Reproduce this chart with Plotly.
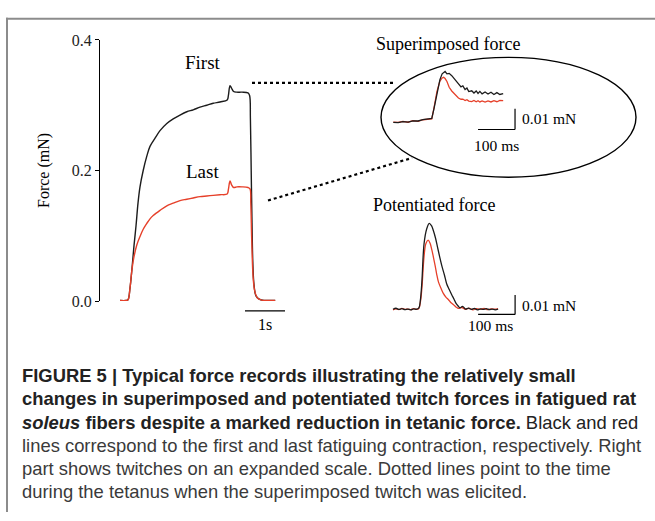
import plotly.graph_objects as go

W, H = 655, 521

# ---------------- data ----------------
# Tetanic force records (time in s, force in mN)
tet_first_t = [0, 0.15, 0.2, 0.25, 0.3, 0.35, 0.4, 0.45, 0.5, 0.58, 0.67, 0.75, 0.88, 1.0, 1.17, 1.33, 1.5,
               1.67, 1.83, 2.0, 2.17, 2.33, 2.5, 2.68, 2.71, 2.75, 2.79, 2.84, 2.92, 3.05, 3.2, 3.24, 3.26,
               3.28, 3.3, 3.32, 3.35, 3.4, 3.48, 3.6, 3.75, 3.88]
tet_first_f = [0.001, 0.001, 0.002, 0.02, 0.05, 0.085, 0.115, 0.15, 0.175, 0.2, 0.222, 0.237, 0.25, 0.261,
               0.272, 0.279, 0.285, 0.29, 0.293, 0.297, 0.3, 0.303, 0.305, 0.308, 0.315, 0.33, 0.326, 0.321,
               0.32, 0.32, 0.319, 0.315, 0.28, 0.2, 0.12, 0.06, 0.025, 0.008, 0.003, 0.001, 0.001, 0.001]

tet_last_t = [0, 0.15, 0.2, 0.25, 0.3, 0.35, 0.42, 0.5, 0.58, 0.67, 0.75, 0.83, 1.0, 1.17, 1.33, 1.5, 1.67,
              1.83, 2.0, 2.17, 2.33, 2.5, 2.68, 2.71, 2.75, 2.79, 2.84, 2.92, 3.05, 3.2, 3.25, 3.27, 3.29,
              3.31, 3.33, 3.36, 3.4, 3.45, 3.52, 3.6, 3.75, 3.88]
tet_last_f = [0.001, 0.001, 0.002, 0.02, 0.049, 0.068, 0.086, 0.099, 0.11, 0.119, 0.126, 0.131, 0.139, 0.146,
              0.15, 0.154, 0.156, 0.158, 0.16, 0.161, 0.162, 0.163, 0.164, 0.171, 0.184, 0.178, 0.174,
              0.175, 0.175, 0.174, 0.172, 0.15, 0.1, 0.06, 0.035, 0.018, 0.009, 0.004, 0.002, 0.001,
              0.001, 0.001]

# Superimposed twitch (time in ms, force in mN relative to pre-twitch level)
sup_t = [0, 13, 26, 40, 53, 67, 80, 94, 104, 110, 118, 126, 132, 136, 140, 145, 151, 158, 167, 176, 183,
         188, 194, 199, 204, 212, 218, 224, 229, 234, 240, 248, 256, 264, 272, 280, 288, 297]
sup_first_f = [0.0, -0.0001, 0.0004, 0.0002, 0.0008, 0.0007, 0.0014, 0.0016, 0.0019, 0.0067, 0.0142,
               0.0207, 0.0235, 0.0242, 0.0246, 0.0235, 0.0237, 0.0226, 0.0207, 0.0187, 0.0172, 0.0177,
               0.0159, 0.0166, 0.0149, 0.0153, 0.0142, 0.0152, 0.014, 0.015, 0.0138, 0.0147, 0.0137,
               0.0146, 0.0135, 0.0144, 0.0135, 0.0139]
sup_last_f = [0.0002, 0.0, 0.0005, 0.0001, 0.0009, 0.0005, 0.0013, 0.0015, 0.0017, 0.007, 0.015, 0.02,
              0.0215, 0.0218, 0.0212, 0.0198, 0.017, 0.0152, 0.0133, 0.0118, 0.0112, 0.0113, 0.0106,
              0.011, 0.0103, 0.0101, 0.0106, 0.01, 0.0105, 0.0099, 0.0104, 0.0098, 0.0104, 0.0099,
              0.0105, 0.01, 0.0106, 0.0105]

# Potentiated twitch (time in ms, force in mN)
pot_first_t = [0, 8, 16, 24, 32, 40, 48, 56, 64, 70, 74, 78, 84, 91, 98, 104, 109, 115, 120, 126, 132, 139,
               145, 152, 159, 165, 170, 176, 181, 188, 196, 204, 212, 220, 228, 236, 244, 252, 260, 268,
               276, 284]
pot_first_f = [0.0003, 0.0008, 0.0002, 0.0006, 0.0001, 0.0004, 0.0, 0.0005, 0.0003, 0.001, 0.005, 0.0143,
               0.0343, 0.0418, 0.0447, 0.0435, 0.041, 0.037, 0.0327, 0.0275, 0.0227, 0.018, 0.0135,
               0.0105, 0.0077, 0.0055, 0.0035, 0.002, 0.001, 0.0018, 0.0004, 0.0009, 0.0002, 0.0007, 0.0,
               0.0005, 0.0002, 0.0006, 0.0001, 0.0004, 0.0, 0.0003]
pot_last_t = [0, 8, 16, 24, 32, 40, 48, 56, 64, 70, 74, 78, 84, 89, 95, 100, 105, 110, 114, 118, 123, 130,
              136, 143, 150, 156, 163, 170, 177, 186, 196, 206, 216, 226, 236, 246, 256, 266, 276, 284]
pot_last_f = [0.0, 0.0005, 0.0001, 0.0007, 0.0002, 0.0004, 0.0001, 0.0006, 0.0002, 0.0008, 0.004, 0.011,
              0.0277, 0.0343, 0.036, 0.0345, 0.031, 0.0265, 0.0227, 0.0185, 0.0143, 0.011, 0.0085,
              0.0066, 0.0052, 0.0038, 0.0027, 0.0015, 0.0007, 0.0012, 0.0003, 0.0008, 0.0, 0.0006,
              0.0002, 0.0007, 0.0001, 0.0005, 0.0003, 0.0006]

y_tickvals = [0.0, 0.2, 0.4]
y_ticktext = ["0.0", "0.2", "0.4"]

SCALE_S = 1      # s
SCALE_MS = 100   # ms
SCALE_MN = 0.01  # mN

caption_lines = [
    "<b>FIGURE 5 | Typical force records illustrating the relatively small</b>",
    "<b>changes in superimposed and potentiated twitch forces in fatigued rat</b>",
    "<b><i>soleus</i> fibers despite a marked reduction in tetanic force.</b> Black and red",
    "lines correspond to the first and last fatiguing contraction, respectively. Right",
    "part shows twitches on an expanded scale. Dotted lines point to the time",
    "during the tetanus when the superimposed twitch was elicited.",
]

# ---------------- helpers (pixel -> paper) ----------------
def px(x):
    return x / W

def py(y):
    return 1 - y / H

BLACK = "#1c1c1c"
RED = "#e6402a"
SERIF = "Liberation Serif, Times New Roman, serif"
SANS = "Liberation Sans, Arial, sans-serif"

fig = go.Figure()

# main tetanus
fig.add_trace(go.Scatter(x=tet_first_t, y=tet_first_f, mode="lines", line=dict(color=BLACK, width=1.4),
                         xaxis="x", yaxis="y", line_shape="spline"))
fig.add_trace(go.Scatter(x=tet_last_t, y=tet_last_f, mode="lines", line=dict(color=RED, width=1.4),
                         xaxis="x", yaxis="y", line_shape="spline"))
# superimposed
fig.add_trace(go.Scatter(x=sup_t, y=sup_last_f, mode="lines", line=dict(color=RED, width=1.3),
                         xaxis="x2", yaxis="y2"))
fig.add_trace(go.Scatter(x=sup_t, y=sup_first_f, mode="lines", line=dict(color=BLACK, width=1.3),
                         xaxis="x2", yaxis="y2"))
# potentiated
fig.add_trace(go.Scatter(x=pot_last_t, y=pot_last_f, mode="lines", line=dict(color=RED, width=1.3),
                         xaxis="x3", yaxis="y3", line_shape="spline"))
fig.add_trace(go.Scatter(x=pot_first_t, y=pot_first_f, mode="lines", line=dict(color=BLACK, width=1.3),
                         xaxis="x3", yaxis="y3", line_shape="spline"))

hidden = dict(visible=False, showgrid=False, zeroline=False)

# pixel-based axes placement
sup_x0, sup_xpp = 393.3, 0.37     # px of t=0, px per ms
sup_y0, sup_ypp = 118.3, 2140.0   # px of 0 mN, px per mN
pot_x0, pot_xpp = 393.0, 0.37
pot_y0, pot_ypp = 312.0, 2000.0

fig.update_layout(
    width=W, height=H, autosize=False,
    margin=dict(l=0, r=0, t=0, b=0),
    paper_bgcolor="white", plot_bgcolor="white",
    showlegend=False,
    hovermode=False,
    xaxis=dict(domain=[px(100), px(300)], range=[-0.5, 4.5], **hidden),
    yaxis=dict(domain=[py(303), py(33)], range=[0, 0.4], anchor="x",
               showgrid=False, zeroline=False, showline=True, linecolor="black", linewidth=1,
               ticks="outside", ticklen=4, tickwidth=1, tickcolor="black",
               tickvals=y_tickvals, ticktext=y_ticktext,
               tickfont=dict(family=SERIF, size=16, color="#222")),
    xaxis2=dict(domain=[px(385), px(525)],
                range=[(385 - sup_x0) / sup_xpp, (525 - sup_x0) / sup_xpp], anchor="y2", **hidden),
    yaxis2=dict(domain=[py(132), py(58)],
                range=[(sup_y0 - 132) / sup_ypp, (sup_y0 - 58) / sup_ypp], anchor="x2", **hidden),
    xaxis3=dict(domain=[px(385), px(525)],
                range=[(385 - pot_x0) / pot_xpp, (525 - pot_x0) / pot_xpp], anchor="y3", **hidden),
    yaxis3=dict(domain=[py(322), py(215)],
                range=[(pot_y0 - 322) / pot_ypp, (pot_y0 - 215) / pot_ypp], anchor="x3", **hidden),
)

shapes = []
# outer frame: only top and left edges are visible
frame = dict(color="#8c8c8c", width=2)
shapes.append(dict(type="line", xref="paper", yref="paper", x0=px(6), x1=1, y0=py(11), y1=py(11), line=frame))
shapes.append(dict(type="line", xref="paper", yref="paper", x0=px(7), x1=px(7), y0=py(10), y1=0, line=frame))
# 1 s scale bar
bar_s_start = 3.125
shapes.append(dict(type="line", xref="x", yref="paper", x0=bar_s_start, x1=bar_s_start + SCALE_S,
                   y0=py(313), y1=py(313), line=dict(color="black", width=1.2)))
# superimposed scale bars
sb_x_end = 329
sb_y_low = -0.0034
shapes.append(dict(type="line", xref="x2", yref="y2", x0=sb_x_end - SCALE_MS, x1=sb_x_end,
                   y0=sb_y_low, y1=sb_y_low, line=dict(color="black", width=1.2)))
shapes.append(dict(type="line", xref="x2", yref="y2", x0=sb_x_end, x1=sb_x_end,
                   y0=sb_y_low, y1=sb_y_low + SCALE_MN, line=dict(color="black", width=1.2)))
# potentiated scale bars
pb_x_end = 330
pb_y_low = -0.0024
shapes.append(dict(type="line", xref="x3", yref="y3", x0=pb_x_end - SCALE_MS, x1=pb_x_end,
                   y0=pb_y_low, y1=pb_y_low, line=dict(color="black", width=1.2)))
shapes.append(dict(type="line", xref="x3", yref="y3", x0=pb_x_end, x1=pb_x_end,
                   y0=pb_y_low, y1=pb_y_low + SCALE_MN, line=dict(color="black", width=1.2)))
# ellipse
shapes.append(dict(type="circle", xref="paper", yref="paper", x0=px(381), x1=px(636), y0=py(175), y1=py(51),
                   line=dict(color="black", width=1.4)))
# dotted pointer lines
shapes.append(dict(type="line", xref="paper", yref="paper", x0=px(252), y0=py(77.5), x1=px(396), y1=py(77.5),
                   line=dict(color="black", width=2.2, dash="dot")))
shapes.append(dict(type="line", xref="paper", yref="paper", x0=px(268), y0=py(199), x1=px(412), y1=py(155),
                   line=dict(color="black", width=2.2, dash="dot")))
fig.update_layout(shapes=shapes)

ann = []
def text(x, y, s, size, family=SERIF, color="black", xanchor="center", angle=0):
    ann.append(dict(x=px(x), y=py(y), xref="paper", yref="paper", text=s, showarrow=False,
                    xanchor=xanchor, yanchor="middle", textangle=angle,
                    font=dict(family=family, size=size, color=color)))

text(43.5, 168, "Force (mN)", 16, angle=-90)
text(203, 56, "First", 19)
text(202, 169, "Last", 19)
text(265, 327, "1s", 16)
text(448, 37, "Superimposed force", 18)
text(434, 204, "Potentiated force", 18)
text(520, 114, "0.01 mN", 15.5, xanchor="left")
text(497, 142, "100 ms", 15.5)
text(520, 308, "0.01 mN", 15.5, xanchor="left")
text(490, 328, "100 ms", 15.5)

cap_y = [380, 404, 428, 452, 476, 500]
for i, (line, yy) in enumerate(zip(caption_lines, cap_y)):
    text(20, yy, line, 18.4, family=SANS, color="#3a3a3a" if i >= 3 else "#222222", xanchor="left")

fig.update_layout(annotations=ann)
fig.write_html("out.html", config={"displayModeBar": False, "staticPlot": True},
               post_script="document.body.style.margin='0';document.body.style.overflow='hidden';")
